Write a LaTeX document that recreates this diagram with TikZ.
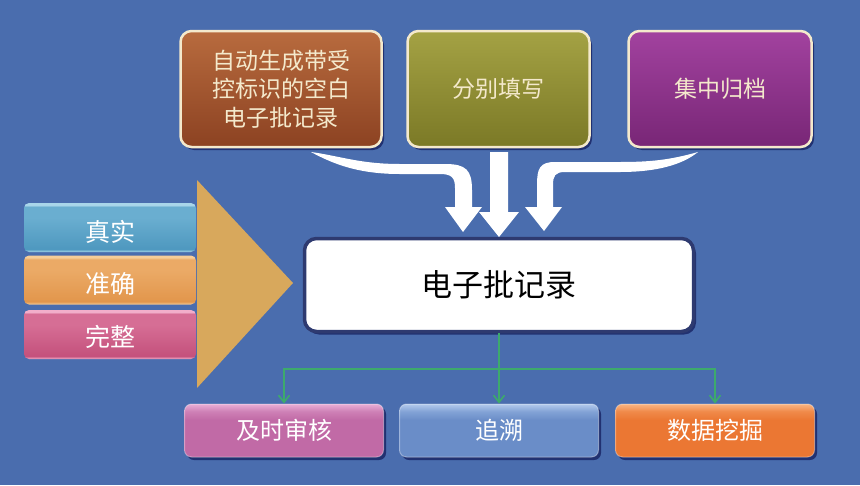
\documentclass[tikz,border=0pt]{standalone}
\usepackage{fontspec}
\newfontfamily\cjk{Noto Sans CJK SC}
\usetikzlibrary{arrows.meta,shadows}
\definecolor{bg}{HTML}{4A6DAE}
\definecolor{cream}{HTML}{F4E9CC}
\definecolor{navy}{HTML}{2E3A70}
\definecolor{gold}{HTML}{D8A85C}
\definecolor{lgreen}{HTML}{3DAA6C}
\definecolor{brownT}{HTML}{B86B3E}
\definecolor{brownB}{HTML}{8C4222}
\definecolor{oliveT}{HTML}{A4A244}
\definecolor{oliveB}{HTML}{7B7926}
\definecolor{purpT}{HTML}{A2429F}
\definecolor{purpB}{HTML}{782676}
\definecolor{tealL}{HTML}{A9D6EA}
\definecolor{tealB}{HTML}{4E98BF}
\definecolor{tealM}{HTML}{6AAED0}
\definecolor{oranL}{HTML}{F7CD98}
\definecolor{oranB}{HTML}{E2964C}
\definecolor{oranM}{HTML}{EBAA66}
\definecolor{roseL}{HTML}{F2AECA}
\definecolor{roseB}{HTML}{C4517C}
\definecolor{roseM}{HTML}{D66E95}
\definecolor{pinkL}{HTML}{E8AED6}
\definecolor{pinkB}{HTML}{C16AA6}
\definecolor{pinkM}{HTML}{CE80B6}
\definecolor{bluL}{HTML}{B3CAEC}
\definecolor{bluB}{HTML}{6A8DC8}
\definecolor{bluM}{HTML}{83A3D6}
\definecolor{orgL}{HTML}{F8B584}
\definecolor{orgB}{HTML}{EB7733}
\definecolor{orgM}{HTML}{F08A4A}
% #1 name, #2 top light, #3 upper mid, #4 base, #5 bottom light
\newcommand\mkgloss[5]{\pgfdeclareverticalshading{#1}{100bp}{color(0bp)=(#5); color(25bp)=(#5); color(28bp)=(#4); color(60bp)=(#3); color(71bp)=(#3); color(73bp)=(#2); color(75bp)=(#2); color(100bp)=(#2)}}
\mkgloss{shTeal}{tealL}{tealM}{tealB}{tealL}
\mkgloss{shOran}{oranL}{oranM}{oranB}{oranL}
\mkgloss{shRose}{roseL}{roseM}{roseB}{roseL}
\newcommand\mkbot[4]{\pgfdeclareverticalshading{#1}{100bp}{color(0bp)=(#4); color(25bp)=(#4); color(60bp)=(#4); color(68bp)=(#3); color(75bp)=(#2); color(100bp)=(#2)}}
\mkbot{shPink}{pinkL}{pinkM}{pinkB}
\mkbot{shBlu}{bluL}{bluM}{bluB}
\mkbot{shOrg}{orgL}{orgM}{orgB}
\tikzset{
  boxshadow/.style={drop shadow={shadow xshift=2.5pt,shadow yshift=-3pt,opacity=0.55,fill=black!75!blue}},
  topbox/.style={draw=cream, line width=2.5pt, rounded corners=11pt, minimum height=116pt,
    text=cream, align=center, inner sep=0pt, font=\cjk\fontsize{23}{28.5}\selectfont, boxshadow},
  bar/.style={minimum width=172pt, minimum height=49pt, rounded corners=5pt, inner sep=0pt,
    text=white, font=\cjk\fontsize{25}{30}\selectfont},
  bartext/.style={text=white, font=\cjk\fontsize{25}{30}\selectfont, inner sep=0pt},
  botbox/.style={draw=white, draw opacity=0.35, line width=1pt, minimum width=199pt, minimum height=53pt,
    rounded corners=7pt, inner sep=0pt, text=white, font=\cjk\fontsize{24}{28}\selectfont, boxshadow},
  garrow/.style={draw=lgreen, line width=1.6pt, -{Straight Barb[length=7pt,width=11pt]}},
  wshape/.style={fill=white},
}
\begin{document}
\begin{tikzpicture}[x=1pt,y=-1pt]
\fill[bg] (0,0) rectangle (860,485);
\useasboundingbox (0,0) rectangle (860,485);

% top boxes
\node[topbox, minimum width=201pt, top color=brownT, bottom color=brownB] (t1) at (281,89) {自动生成带受\\控标识的空白\\电子批记录};
\node[topbox, minimum width=182pt, top color=oliveT, bottom color=oliveB] (t2) at (498.5,89) {分别填写};
\node[topbox, minimum width=183pt, top color=purpT, bottom color=purpB] (t3) at (720,89) {集中归档};

% central box
\node[draw=navy, fill=white, line width=3.5pt, rounded corners=12pt, minimum width=389pt, minimum height=93pt,
  font=\cjk\fontsize{31}{36}\selectfont, text=black, boxshadow] (c) at (499,285) {电子批记录};

% white arrows (filled shapes)
\fill[wshape] (311,152) .. controls (340,156) and (360,164) .. (400,164) -- (445,164)
  .. controls (466,164) and (472,170) .. (472,190) -- (472,207) -- (482,207) -- (463,232)
  -- (445,207) -- (455,207) -- (455,188) .. controls (455,178) and (452,174) .. (440,174)
  -- (400,174) .. controls (360,174) and (335,165) .. (311,152) -- cycle;
\fill[wshape] (490,152) -- (508,152) -- (508,212) -- (519,212) -- (499,237) -- (479,212) -- (490,212) -- cycle;
\fill[wshape] (698,152) .. controls (670,160) and (650,162) .. (620,162) -- (555,162)
  .. controls (540,162) and (537,168) .. (537,185) -- (537,207) -- (525,207) -- (544,231)
  -- (562,207) -- (553,207) -- (553,185) .. controls (553,176) and (555,172) .. (565,172)
  -- (620,172) .. controls (656,172) and (682,165) .. (698,152) -- cycle;

% golden triangle
\fill[gold] (197,180) -- (293,283) -- (197,388) -- cycle;

% left bars
\node[bar, shading=shTeal] (q1) at (110,227.5) {};
\node[bar, shading=shOran] (q2) at (110,280) {};
\node[bar, shading=shRose] (q3) at (110,334.5) {};
\node[bartext] (q1t) at ([yshift=-4pt]q1.center) {真实};
\node[bartext] (q2t) at ([yshift=-4pt]q2.center) {准确};
\node[bartext] (q3t) at ([yshift=-2pt]q3.center) {完整};

% bottom boxes
\node[botbox, shading=shPink] (b1) at (284,430.5) {及时审核};
\node[botbox, shading=shBlu] (b2) at (499,430.5) {追溯};
\node[botbox, shading=shOrg] (b3) at (715,430.5) {数据挖掘};

% green connectors
\coordinate (j) at (499,369);
\draw[garrow] (c.south) -- (b2.north);
\draw[garrow] (j) -| (b1.north);
\draw[garrow] (j) -| (b3.north);
\end{tikzpicture}
\end{document}
